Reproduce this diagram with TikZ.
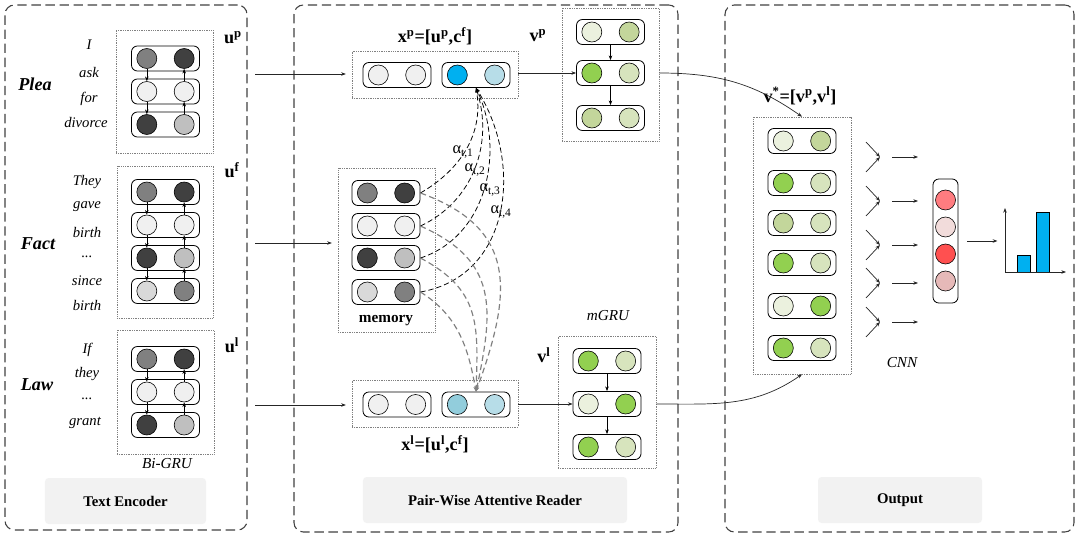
\documentclass[tikz,border=0pt]{standalone}
\usepackage{fontspec}
\setmainfont{Liberation Serif}
\usetikzlibrary{arrows.meta}
\definecolor{g25}{HTML}{404040}
\definecolor{g50}{HTML}{808080}
\definecolor{g75}{HTML}{BFBFBF}
\definecolor{g85}{HTML}{D9D9D9}
\definecolor{g94}{HTML}{F0F0F0}
\definecolor{lgA}{HTML}{EBF1DE}
\definecolor{lgB}{HTML}{C3D69B}
\definecolor{lgC}{HTML}{D7E4BD}
\definecolor{gD}{HTML}{92D050}
\definecolor{cyA}{HTML}{00B0F0}
\definecolor{blB}{HTML}{B7DDE8}
\definecolor{blC}{HTML}{92CDDC}
\definecolor{rdA}{HTML}{FF7C80}
\definecolor{rdB}{HTML}{F2DCDB}
\definecolor{rdC}{HTML}{FF5050}
\definecolor{rdD}{HTML}{E6B9B8}
\definecolor{tagfill}{HTML}{F2F2F2}

\begin{document}
\begin{tikzpicture}[
		x=0.03cm, y=0.03cm,
		>={Stealth[length=4pt,width=3pt]},
		panel/.style={draw=black!75, line width=0.9pt, dash pattern=on 8pt off 4pt, rounded corners=8pt, inner sep=0pt},
		tag/.style={fill=tagfill, rounded corners=3pt, minimum height=1.38cm, inner sep=0pt, font=\fontsize{12.6}{14}\selectfont\bfseries},
		dotbox/.style={draw=gray, densely dotted, line width=0.5pt, inner sep=0pt},
		rowbox/.style={draw, rounded corners=5pt, line width=0.7pt, minimum width=2.04cm, minimum height=0.75cm, inner sep=0pt},
		cell/.style={circle, draw, line width=0.5pt, minimum size=0.6cm, inner sep=0pt},
		word/.style={font=\fontsize{12.5}{14}\selectfont\itshape},
		side/.style={font=\fontsize{15.5}{18}\selectfont\bfseries\itshape},
		vec/.style={font=\fontsize{15.5}{18}\selectfont\bfseries},
		note/.style={font=\fontsize{13}{15}\selectfont\itshape},
		weight/.style={font=\fontsize{14}{15}\selectfont},
		flow/.style={->, draw=black!85, line width=0.6pt},
		att/.style={->, dash pattern=on 4.5pt off 2.5pt, line width=0.65pt},
		attgray/.style={->, dash pattern=on 5pt off 3pt, draw=gray, line width=1pt},
		]
	\useasboundingbox (0,0) rectangle (1079,-538);

	\node[panel, minimum width=7.26cm, minimum height=15.75cm] (enc) at (126,-267.5) {};
	\node[panel, minimum width=11.52cm, minimum height=15.81cm] (reader) at (486,-268.5) {};
	\node[panel, minimum width=10.47cm, minimum height=15.81cm] (output) at (899.5,-268.5) {};
	\node[tag, minimum width=4.83cm] (enc-tag) at (125.5,-501) {Text Encoder};
	\node[tag, minimum width=7.92cm] (reader-tag) at (495,-500) {Pair-Wise Attentive Reader};
	\node[tag, minimum width=4.92cm] (output-tag) at (900,-500) {Output};

	\node[dotbox, minimum width=2.91cm, minimum height=3.69cm] (plea) at (164.5,-91.5) {};
	\node[dotbox, minimum width=2.88cm, minimum height=4.56cm] (fact) at (165,-242) {};
	\node[dotbox, minimum width=2.91cm, minimum height=3.72cm] (law) at (165.5,-392) {};
	\node[dotbox, minimum width=4.98cm, minimum height=1.41cm] (xp) at (435,-74.5) {};
	\node[dotbox, minimum width=4.98cm, minimum height=1.41cm] (xl) at (435,-403.5) {};
	\node[dotbox, minimum width=2.91cm, minimum height=4.92cm] (mem) at (386.5,-250) {};
	\node[dotbox, minimum width=2.91cm, minimum height=3.99cm] (vp) at (610.5,-74.5) {};
	\node[dotbox, minimum width=2.94cm, minimum height=3.96cm] (vl) at (607,-402) {};
	\node[dotbox, minimum width=2.94cm, minimum height=7.71cm] (vs) at (802,-245.5) {};

	\foreach \n/\px/\py/\ca/\cb in {p1/165.5/58.5/g50/g25, p2/165.5/91.5/g94/g94, p3/165.5/124.5/g25/g75,
			f1/165.5/192/g50/g25, f2/165.5/225/g94/g94, f3/165.5/258/g25/g75, f4/165.5/291/g85/g50,
			l1/165.5/359/g50/g25, l2/165.5/392/g94/g94, l3/165.5/425/g25/g75,
			m1/386/193/g50/g25, m2/386/226/g94/g94, m3/386/258/g25/g75, m4/386/292/g85/g50,
			xp1/397/75/g94/g94, xp2/476/75/cyA/blB, xl1/397/404.5/g94/g94, xl2/476/404.5/blC/blB,
			vp1/610.5/32/lgA/lgB, vp2/610.5/73/gD/lgC, vp3/610.5/118/lgB/lgC,
			vl1/607/361/gD/lgC, vl2/607/404/lgA/gD, vl3/607/447/gD/lgC,
			s1/802/141/lgA/lgB, s2/802/183/gD/lgC, s3/802/223/lgB/lgC,
			s4/802/263/gD/lgC, s5/802/306/lgA/gD, s6/802/348/gD/lgC} {
		\node[rowbox] (\n) at (\px,-\py) {};
		\node[cell, fill=\ca] (\n-l) at ([xshift=-0.56cm]\n.center) {};
		\node[cell, fill=\cb] (\n-r) at ([xshift=0.56cm]\n.center) {};
	}

	\foreach \ra/\rb in {p1/p2, p2/p3, f1/f2, f2/f3, f3/f4, l1/l2, l2/l3} {
		\draw[->, line width=0.5pt] (\ra-l) -- (\rb-l);
		\draw[->, line width=0.5pt] (\rb-r) -- (\ra-r);
	}
	\foreach \ra/\rb in {vp1/vp2, vp2/vp3, vl1/vl2, vl2/vl3}
		\draw[->, line width=0.5pt] (\ra) -- (\rb);

	\node[side] (plea-lbl) at (35,-84) {Plea};
	\node[side] (fact-lbl) at (38,-244) {Fact};
	\node[side] (law-lbl) at (37,-385) {Law};
	\node[word] (w1) at (89,-45) {I};
	\node[word] (w2) at (89,-72) {ask};
	\node[word] (w3) at (89,-99) {for};
	\node[word] (w4) at (86,-122) {divorce};
	\node[word] (w5) at (87,-182) {They};
	\node[word] (w6) at (87,-207) {gave};
	\node[word] (w7) at (87,-232) {birth};
	\node[word] (w8) at (87,-257) {...};
	\node[word] (w9) at (87,-281) {since};
	\node[word] (w10) at (87,-305) {birth};
	\node[word] (w11) at (87,-350) {If};
	\node[word] (w12) at (87,-374) {they};
	\node[word] (w13) at (87,-399) {...};
	\node[word] (w14) at (85,-423) {grant};
	\node[vec] (up) at (233,-38) {u\textsuperscript{p}};
	\node[vec] (uf) at (232,-170) {u\textsuperscript{f}};
	\node[vec] (ul) at (232,-345) {u\textsuperscript{l}};
	\node[note] (bigru) at (167,-464) {Bi-GRU};

	\node[vec] (xp-lbl) at (435,-36) {x\textsuperscript{p}=[u\textsuperscript{p},c\textsuperscript{f}]};
	\node[vec] (xl-lbl) at (435,-444) {x\textsuperscript{l}=[u\textsuperscript{l},c\textsuperscript{f}]};
	\node[vec] (vp-lbl) at (538,-36) {v\textsuperscript{p}};
	\node[vec] (vl-lbl) at (544,-355) {v\textsuperscript{l}};
	\node[font=\fontsize{13}{15}\selectfont\bfseries] (mem-lbl) at (386,-321) {memory};
	\node[note] (mgru) at (608,-316) {mGRU};
	\node[vec] (vs-lbl) at (800,-96) {v\textsuperscript{*}=[v\textsuperscript{p},v\textsuperscript{l}]};
	\node[note] (cnn) at (902,-363) {CNN};

	\coordinate (in-p) at (255,-74);
	\coordinate (in-f) at (255,-243);
	\coordinate (in-l) at (255,-405);
	\draw[flow, shorten >=5pt] (in-p) -- (xp.west |- in-p);
	\draw[flow, shorten >=5pt] (in-f) -- (mem.west |- in-f);
	\draw[flow, shorten >=5pt] (in-l) -- (xl.west |- in-l);
	\draw[flow] (xp.east |- vp2) -- (vp2.west);
	\draw[flow] (xl.east |- vl2) -- (vl2.west);

	\draw[att] (m1.east) to[out=30, in=-80] (xp2.south);
	\draw[att] (m2.east) to[out=25, in=-72] (xp2.south);
	\draw[att] (m3.east) to[out=18, in=-65] (xp2.south);
	\draw[att] (m4.east) to[out=10, in=-58, looseness=1.1] (xp2.south);
	\draw[attgray] (m1.east) to[out=-20, in=70, looseness=1.3] (xl2.north);
	\draw[attgray] (m2.east) to[out=-24, in=78, looseness=1.25] (xl2.north);
	\draw[attgray] (m3.east) to[out=-28, in=88, looseness=1.2] (xl2.north);
	\draw[attgray] (m4.east) to[out=-32, in=100] (xl2.north);
	\node[weight] (a1) at (463,-152) {α\textsubscript{t,1}};
	\node[weight] (a2) at (475,-170) {α\textsubscript{t,2}};
	\node[weight] (a3) at (490,-190) {α\textsubscript{t,3}};
	\node[weight] (a4) at (501,-212) {α\textsubscript{t,4}};

	\draw[flow] (vp.east |- vp2) to[out=0, in=145] (vs.north);
	\draw[flow] (vl.east |- vl2) to[out=0, in=-145] (vs.south);

	\foreach \i/\py in {1/157, 2/201, 3/245, 4/283, 5/322} {
		\coordinate (k\i) at (880,-\py);
		\draw[flow] ([shift={(-14,15)}]k\i) -- (k\i);
		\draw[flow] ([shift={(-14,-15)}]k\i) -- (k\i);
		\draw[flow] ([shift={(12,0)}]k\i) -- ([shift={(38,0)}]k\i);
	}

	\node[rowbox, minimum width=0.75cm, minimum height=3.72cm] (pool) at (945.5,-241) {};
	\foreach \i/\py/\ca in {1/200/rdA, 2/227/rdB, 3/254/rdC, 4/281/rdD}
		\node[cell, fill=\ca] (r\i) at (945.5,-\py) {};
	\draw[flow] ([xshift=0.27cm]pool.east) -- ([xshift=1.17cm]pool.east);

	\coordinate (o) at (1005,-272);
	\draw[line width=0.6pt, fill=cyA] (1017,-272) rectangle (1030,-255);
	\draw[line width=0.6pt, fill=cyA] (1036,-272) rectangle (1049,-212);
	\draw[flow] (o) -- ++(0,64);
	\draw[flow] (o) -- ++(61,0);
\end{tikzpicture}
\end{document}
